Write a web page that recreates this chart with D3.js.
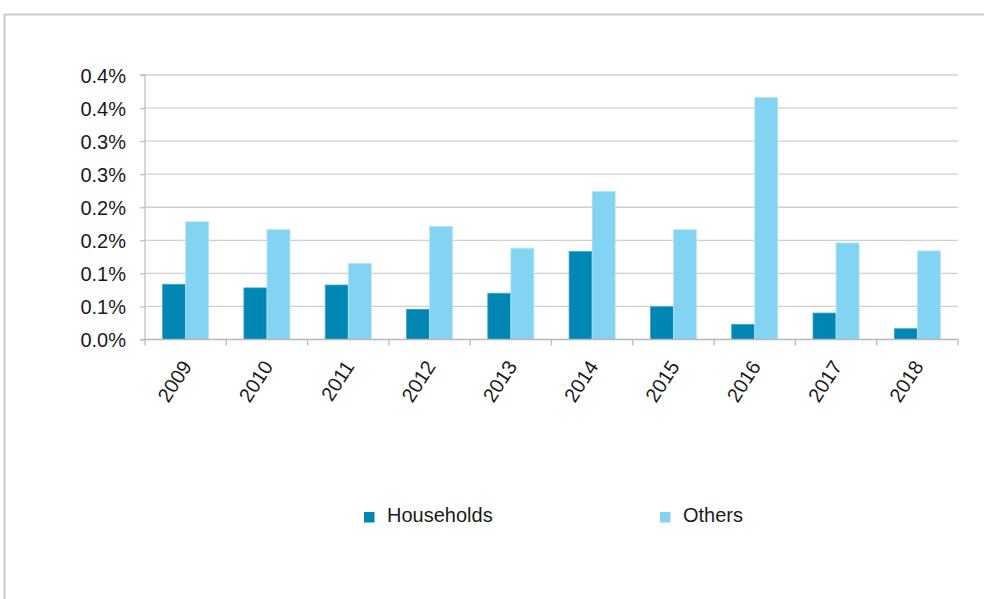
<!DOCTYPE html>
<html><head><meta charset="utf-8">
<script src="https://cdn.jsdelivr.net/npm/d3@7"></script>
<style>
html,body{margin:0;padding:0;background:#fff;}
svg{display:block;font-family:"Liberation Sans","DejaVu Sans",sans-serif;}
</style></head>
<body>
<svg id="chart" width="984" height="599"></svg>
<script>
const years = ["2009","2010","2011","2012","2013","2014","2015","2016","2017","2018"];
const households = [0.0835,0.078,0.0824,0.0457,0.070,0.133,0.0496,0.023,0.040,0.0163];
const others = [0.178,0.166,0.115,0.171,0.138,0.224,0.166,0.366,0.146,0.134];
const seriesNames = ["Households","Others"];
const colors = ["#0086b3","#83d3f3"];
const yTicks = [0,0.05,0.1,0.15,0.2,0.25,0.3,0.35,0.4];

(function(){
const svg = d3.select("#chart");
svg.append("path").attr("d","M4.5,599 L4.5,14.5 L984,14.5")
  .attr("fill","none").attr("stroke","#cccccc").attr("stroke-width",2);

const pL=145, pR=958, pT=75, pB=339.5;
const x = d3.scaleBand().domain(years).range([pL,pR]).paddingInner(0).paddingOuter(0);
const y = d3.scaleLinear().domain([0,0.4]).range([pB,pT]);
const gap = 1.53;
const bw = x.bandwidth()/(2+gap);

svg.append("g").selectAll("line").data(yTicks.slice(1)).join("line")
  .attr("x1",pL).attr("x2",pR)
  .attr("y1",d=>y(d)).attr("y2",d=>y(d))
  .attr("stroke","#d0d0d0").attr("stroke-width",1.3);

const data = [households, others];
data.forEach((vals,si)=>{
  svg.append("g").selectAll("rect").data(vals).join("rect")
    .attr("x",(d,i)=>x(years[i]) + bw*gap/2 + si*bw)
    .attr("width",bw)
    .attr("y",d=>y(d))
    .attr("height",d=>pB-y(d))
    .attr("fill",colors[si])
    .attr("stroke", si===0 ? "#3fa5c8" : "#b5e6f8")
    .attr("stroke-width",0.8);
});

const fmt = d => (Math.round(d*10+1e-9)/10).toFixed(1)+"%";
const yAxis = d3.axisLeft(y).tickValues(yTicks).tickSize(5).tickPadding(14).tickFormat(fmt);
const yg = svg.append("g").attr("transform",`translate(${pL},0)`).call(yAxis);
yg.select(".domain").attr("stroke","#c0c0c0").attr("stroke-width",1.3).attr("d",`M-5,${pT}H0V${pB}H-5`);
yg.selectAll(".tick line").attr("stroke","#c0c0c0").attr("stroke-width",1.3);
yg.selectAll("text").attr("font-size",20).attr("fill","#1a1a1a").attr("dy","0.36em");

const xg = svg.append("g").attr("transform",`translate(0,${pB})`);
xg.append("line").attr("x1",pL).attr("x2",pR).attr("y1",0).attr("y2",0)
  .attr("stroke","#b8b8b8").attr("stroke-width",1.5);
const bounds = years.map(d=>x(d)).concat([pR]);
xg.selectAll("line.tk").data(bounds).join("line").attr("class","tk")
  .attr("x1",d=>d).attr("x2",d=>d).attr("y1",0).attr("y2",6)
  .attr("stroke","#b8b8b8").attr("stroke-width",1.3);
xg.selectAll("text").data(years).join("text")
  .attr("transform",d=>`translate(${x(d)+x.bandwidth()/2+1},23) rotate(-57)`)
  .attr("text-anchor","end").attr("font-size",20).attr("fill","#1a1a1a")
  .attr("dy","0.35em")
  .text(d=>d);

const legX = [364, 660];
const lg = svg.append("g");
seriesNames.forEach((n,i)=>{
  lg.append("rect").attr("x",legX[i]).attr("y",512).attr("width",10.5).attr("height",10.5).attr("fill",colors[i]);
  lg.append("text").attr("x",legX[i]+23).attr("y",522).attr("font-size",20).attr("fill","#1a1a1a").text(n);
});
})();
</script>
</body></html>
